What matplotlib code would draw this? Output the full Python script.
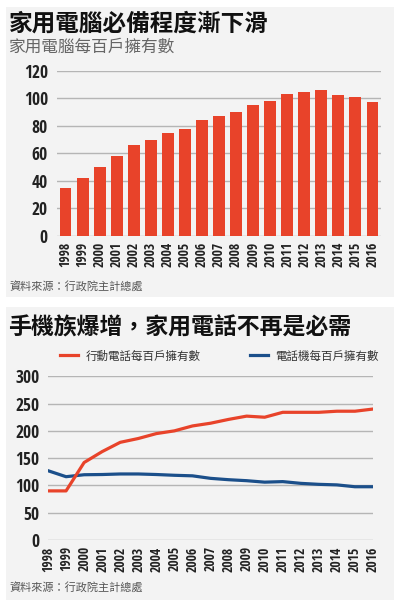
import matplotlib
matplotlib.use("Agg")
import matplotlib.pyplot as plt
from matplotlib.patches import Rectangle

plt.rcParams['font.family'] = ['Noto Sans CJK TC', 'DejaVu Sans']

years = [str(y) for y in range(1998, 2017)]
pc_per100 = [35, 42, 50, 58, 66, 70, 75, 78, 84, 87, 90, 95, 98, 103, 104.5, 106.4, 102.6, 100.8, 97.4]
mobile_per100 = [90, 90, 142, 162, 179, 186, 195, 200, 209, 214, 221, 227, 225, 234, 234, 234, 236, 236, 240]
landline_per100 = [127, 116, 119.6, 120, 121, 121, 120, 118.6, 117.6, 113, 110.5, 108.7, 106, 107, 103.8, 102, 101, 97.6, 97.6]

title1 = "家用電腦必備程度漸下滑"
subtitle1 = "家用電腦每百戶擁有數"
title2 = "手機族爆增，家用電話不再是必需"
source = "資料來源：行政院主計總處"
series_names = ["行動電話每百戶擁有數", "電話機每百戶擁有數"]

RED = '#e8432a'
BLUE = '#1b4f8a'
BG = '#f3f3f3'
GRID = '#b5b5b5'
NUMFONT = ['Open Sans Condensed', 'DejaVu Sans']
NUMW = 'bold'

W, H = 397, 600
fig = plt.figure(figsize=(W / 100, H / 100), dpi=100)
fig.patch.set_facecolor('white')

def fx(px):
    return px / W

def fy(py):
    return 1 - py / H

# panel backgrounds
fig.patches.append(Rectangle((fx(6), fy(297)), fx(388), 290 / H, transform=fig.transFigure,
                             facecolor=BG, edgecolor='none', zorder=-10))
fig.patches.append(Rectangle((fx(6), fy(600)), fx(388), 293 / H, transform=fig.transFigure,
                             facecolor=BG, edgecolor='none', zorder=-10))

def style_axis(ax, ypad, xpad):
    for lab in ax.get_yticklabels():
        lab.set_family(NUMFONT)
        lab.set_fontweight(NUMW)
        lab.set_fontsize(12.5)
        lab.set_color('#222222')
    for lab in ax.get_xticklabels():
        lab.set_family(NUMFONT)
        lab.set_fontweight(NUMW)
        lab.set_fontsize(9.8)
        lab.set_rotation(90)
        lab.set_color('#222222')
    ax.tick_params(axis='y', length=0, pad=ypad)
    ax.tick_params(axis='x', length=0, pad=xpad)
    for s in ax.spines.values():
        s.set_visible(False)

# ---- top chart
ax1 = fig.add_axes([fx(57), fy(235.5), fx(381 - 57), (235.5 - 71) / H])
ax1.set_facecolor('none')
x = list(range(len(years)))
ax1.bar(x, pc_per100, width=0.7, color=RED, zorder=3)
ax1.set_xlim(-0.5, len(years) - 0.5)
ax1.set_ylim(0, 120)
ax1.set_yticks([0, 20, 40, 60, 80, 100, 120])
ax1.yaxis.grid(True, color=GRID, linewidth=1, zorder=0)
ax1.set_axisbelow(True)
ax1.set_xticks(x)
ax1.set_xticklabels(years)
style_axis(ax1, 6.5, 4.5)

fig.text(fx(9), fy(24), title1, fontsize=17, fontweight='bold', va='center', ha='left', color='#111111')
fig.text(fx(9), fy(47), subtitle1, fontsize=12, va='center', ha='left', color='#666666')
fig.text(fx(9), fy(286), source, fontsize=8, va='center', ha='left', color='#555555')

# ---- bottom chart
ax2 = fig.add_axes([fx(48), fy(540), fx(373 - 48), (540 - 376.3) / H])
ax2.set_facecolor('none')
l1, = ax2.plot(x, mobile_per100, color=RED, linewidth=2.3, zorder=4)
l2, = ax2.plot(x, landline_per100, color=BLUE, linewidth=2.3, zorder=3)
ax2.set_xlim(0, len(years) - 1)
ax2.set_ylim(0, 300)
ax2.set_yticks([0, 50, 100, 150, 200, 250, 300])
ax2.yaxis.grid(True, color=GRID, linewidth=1, zorder=0)
ax2.set_axisbelow(True)
ax2.set_xticks(x)
ax2.set_xticklabels(years)
style_axis(ax2, 6, 4.5)

fig.text(fx(8), fy(328), title2, fontsize=16.5, fontweight='bold', va='center', ha='left', color='#111111')
leg = fig.legend([l1, l2], series_names, loc='center left', bbox_to_anchor=(fx(60), fy(356)),
                 ncol=2, frameon=False, fontsize=8.3, handlelength=1.6, handletextpad=0.6,
                 columnspacing=4.3, borderaxespad=0, borderpad=0)
for t in leg.get_texts():
    t.set_color('#333333')
fig.text(fx(9), fy(587), source, fontsize=8, va='center', ha='left', color='#555555')

fig.savefig('out.png', dpi=100, facecolor='white')
